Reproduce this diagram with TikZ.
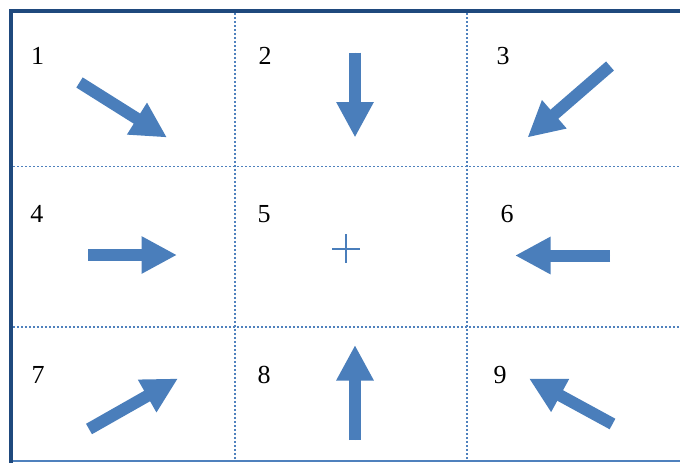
\documentclass[tikz,border=0pt]{standalone}
\usepackage{fontspec}
\setmainfont{Liberation Serif}
\usetikzlibrary{arrows.meta}
\definecolor{framec}{RGB}{31,73,125}
\definecolor{arrowc}{RGB}{74,126,187}
\definecolor{gridc}{RGB}{79,129,189}
\tikzset{
  blockarrow/.style={draw=arrowc, fill=arrowc, line width=12pt, line cap=butt,
    -{Triangle[width=35pt,length=35.5pt]}},
  gridline/.style={draw=gridc, line width=1.6pt, dash pattern=on 1.6pt off 2.4pt},
  numlabel/.style={inner sep=0pt, font=\fontsize{26}{26}\selectfont},
}
\begin{document}
\begin{tikzpicture}[x=1pt,y=-1pt]
\useasboundingbox (0,0) rectangle (680,463);
% grid coordinates
\coordinate (v1t) at (235,13); \coordinate (v1b) at (235,461);
\coordinate (v2t) at (467,13); \coordinate (v2b) at (467,461);
\coordinate (h1l) at (13,166.5); \coordinate (h1r) at (680,166.5);
\coordinate (h2l) at (13,327); \coordinate (h2r) at (680,327);
\draw[gridline] (v1t) -- (v1b);
\draw[gridline] (v2t) -- (v2b);
\draw[gridline] (h1l) -- (h1r);
\draw[gridline] (h2l) -- (h2r);
% frame
\coordinate (fbl) at (11,461); \coordinate (fbr) at (680,461);
\coordinate (ftl) at (11,11); \coordinate (ftr) at (680,11);
\coordinate (fll) at (11,463);
\draw[gridc, line width=1.5pt] (fbl) -- (fbr);
\draw[framec, line width=4.3pt] (fll) -- (ftl) -- (ftr);
% labels
\node[numlabel] (n1) at (37.5,56) {1};
\node[numlabel] (n2) at (265,56) {2};
\node[numlabel] (n3) at (503,56) {3};
\node[numlabel] (n4) at (37,214) {4};
\node[numlabel] (n5) at (264,214) {5};
\node[numlabel] (n6) at (507,214) {6};
\node[numlabel] (n7) at (38,375) {7};
\node[numlabel] (n8) at (264,375) {8};
\node[numlabel] (n9) at (500,375.5) {9};
% arrows
\coordinate (a1s) at (79.5,82.5); \coordinate (a1e) at (167,137.5);
\coordinate (a2s) at (355,52.5);  \coordinate (a2e) at (355,137.5);
\coordinate (a3s) at (610,66);    \coordinate (a3e) at (527.5,137.5);
\coordinate (a4s) at (88,255);    \coordinate (a4e) at (177,255);
\coordinate (a6s) at (610,255.5); \coordinate (a6e) at (515,255.5);
\coordinate (a7s) at (89,429);    \coordinate (a7e) at (178,378.5);
\coordinate (a8s) at (355,440);   \coordinate (a8e) at (355,345);
\coordinate (a9s) at (612.5,424); \coordinate (a9e) at (529,378.5);
\foreach \i in {1,2,3,4,6,7,8,9}{
  \draw[blockarrow] (a\i s) -- (a\i e);
}
% cross in centre
\coordinate (cl) at (332,249); \coordinate (cr) at (360,249);
\coordinate (ct) at (346,234); \coordinate (cb) at (346,263);
\draw[arrowc, line width=1.5pt] (cl) -- (cr) (ct) -- (cb);
\end{tikzpicture}
\end{document}
